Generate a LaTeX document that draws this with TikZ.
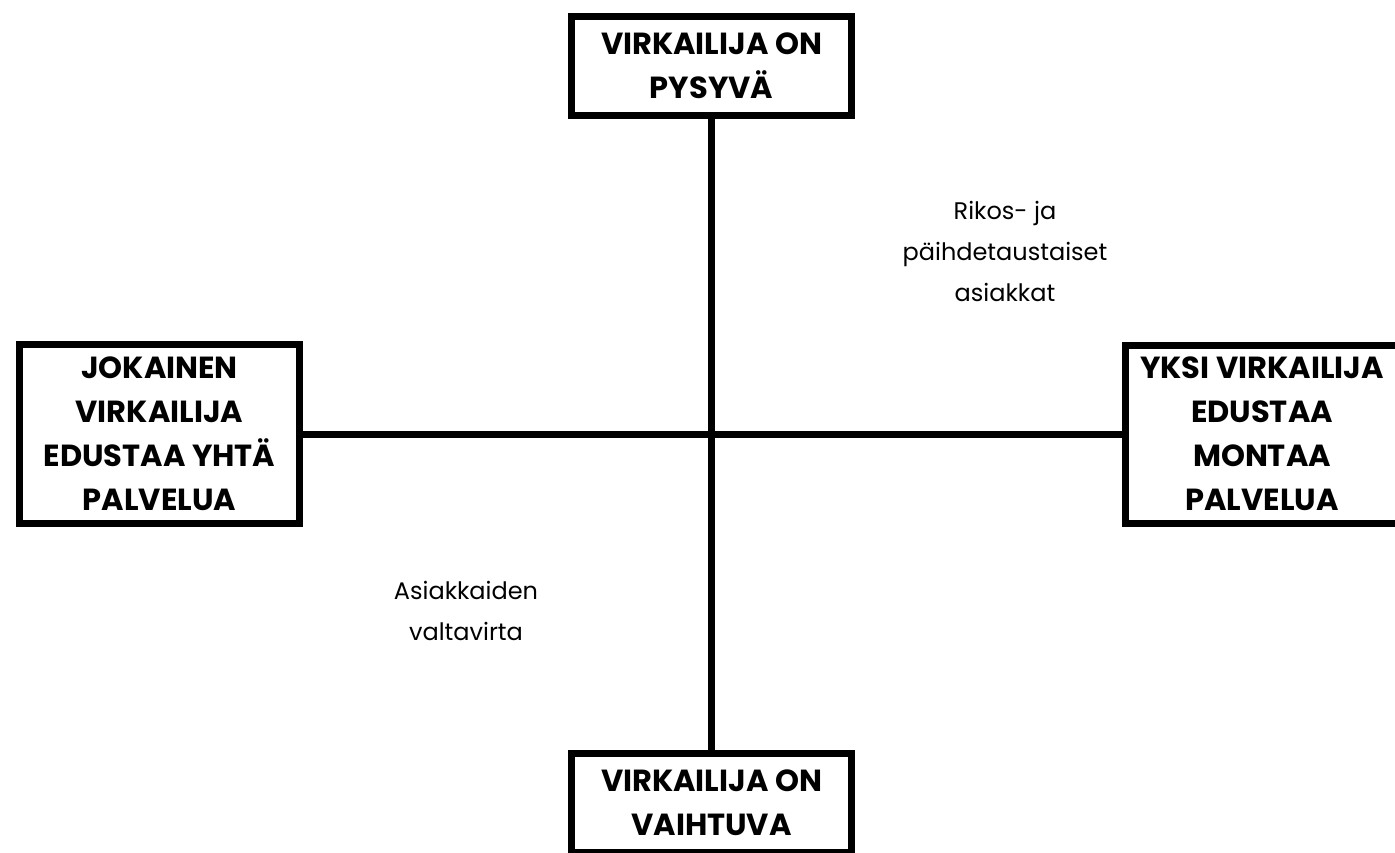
\documentclass[tikz,border=0pt]{standalone}
\usepackage{fontspec}
\setmainfont{Poppins}
\begin{document}
\begin{tikzpicture}[x=1pt,y=-1pt,
  box/.style={draw=black,line width=7pt,fill=white,align=center,inner sep=0pt,
    font=\bfseries\fontsize{30.5}{44}\selectfont},
  axis/.style={line width=7pt,black},
  lbl/.style={align=center,inner sep=0pt,font=\fontsize{24}{41}\selectfont}]
\useasboundingbox (0,0) rectangle (1395,852);
\clip (0,0) rectangle (1395,852);
\node[box,minimum width=280pt,minimum height=99pt] (top) at (711.5,65.5) {VIRKAILIJA ON\\PYSYVÄ};
\node[box,minimum width=280pt,minimum height=99pt] (bottom) at (711.5,803) {VIRKAILIJA ON\\VAIHTUVA};
\node[box,minimum width=280pt,minimum height=179pt] (left) at (159.5,434) {JOKAINEN\\VIRKAILIJA\\EDUSTAA YHTÄ\\PALVELUA};
\node[box,minimum width=273pt,minimum height=178pt] (right) at (1262,434) {YKSI VIRKAILIJA\\EDUSTAA\\MONTAA\\PALVELUA};
\draw[axis] (top.south) -- (bottom.north);
\draw[axis] (left.east) -- (right.west);
\node[lbl] (crime) at (1005,251) {Rikos- ja\\päihdetaustaiset\\asiakkat};
\node[lbl] (main) at (466,611) {Asiakkaiden\\valtavirta};
\end{tikzpicture}
\end{document}
